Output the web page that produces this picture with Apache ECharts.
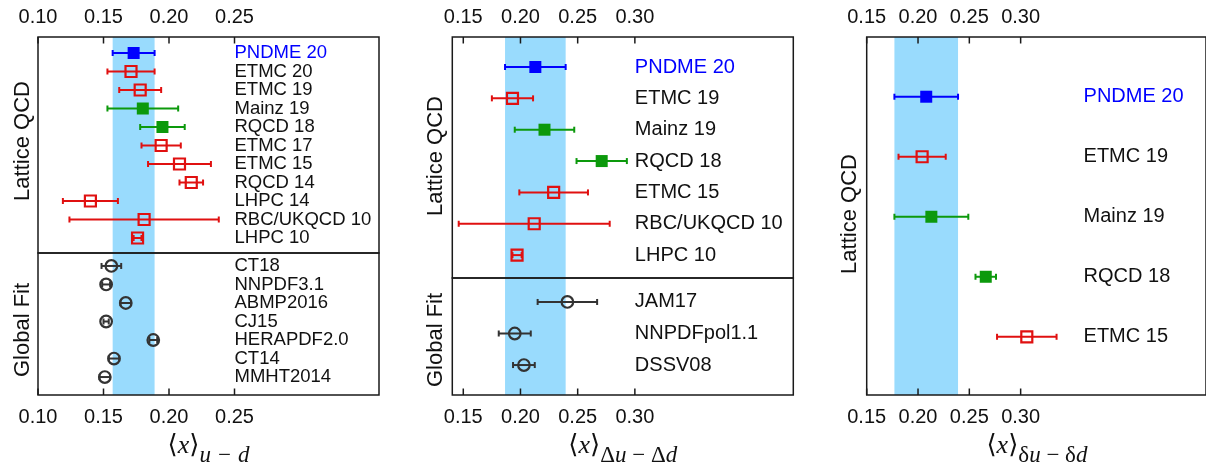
<!DOCTYPE html>
<html>
<head>
<meta charset="utf-8">
<script src="https://cdn.jsdelivr.net/npm/echarts@6/dist/echarts.min.js"></script>
<style>
html,body{margin:0;padding:0;background:#fff;}
#chart{width:1206px;height:473px;}
</style>
</head>
<body>
<div id="chart"></div>
<script>
// ---------- DATA ----------
// Panel 1: <x>_{u-d}
const p1LatticeNames = ['PNDME 20','ETMC 20','ETMC 19','Mainz 19','RQCD 18','ETMC 17','ETMC 15','RQCD 14','LHPC 14','RBC/UKQCD 10','LHPC 10'];
const p1LatticeVals  = [0.173, 0.171, 0.178, 0.180, 0.195, 0.194, 0.208, 0.217, 0.140, 0.181, 0.176];
const p1LatticeErrs  = [0.016, 0.018, 0.016, 0.027, 0.017, 0.015, 0.024, 0.009, 0.021, 0.057, 0.003];
const p1GlobalNames  = ['CT18','NNPDF3.1','ABMP2016','CJ15','HERAPDF2.0','CT14','MMHT2014'];
const p1GlobalVals   = [0.156, 0.152, 0.167, 0.152, 0.188, 0.158, 0.151];
const p1GlobalErrs   = [0.0075, 0.003, 0.004, 0.002, 0.003, 0.004, 0.004];
const p1Ticks        = [0.10, 0.15, 0.20, 0.25];

// Panel 2: <x>_{Δu-Δd}
const p2LatticeNames = ['PNDME 20','ETMC 19','Mainz 19','RQCD 18','ETMC 15','RBC/UKQCD 10','LHPC 10'];
const p2LatticeVals  = [0.213, 0.193, 0.221, 0.271, 0.229, 0.212, 0.197];
const p2LatticeErrs  = [0.0265, 0.018, 0.026, 0.022, 0.030, 0.066, 0.004];
const p2GlobalNames  = ['JAM17','NNPDFpol1.1','DSSV08'];
const p2GlobalVals   = [0.241, 0.195, 0.203];
const p2GlobalErrs   = [0.026, 0.014, 0.0095];
const p2Ticks        = [0.15, 0.20, 0.25, 0.30];

// Panel 3: <x>_{δu-δd}
const p3LatticeNames = ['PNDME 20','ETMC 19','Mainz 19','RQCD 18','ETMC 15'];
const p3LatticeVals  = [0.208, 0.204, 0.213, 0.266, 0.306];
const p3LatticeErrs  = [0.031, 0.023, 0.036, 0.010, 0.029];
const p3Ticks        = [0.15, 0.20, 0.25, 0.30];

// ---------- STYLE / LAYOUT ----------
const SANS = 'Liberation Sans, Arial, Helvetica, sans-serif';
const SERIF = 'Liberation Serif, DejaVu Serif, Times New Roman, serif';
const BLUE = '#0000ff', RED = '#e01010', GREEN = '#0c990c', GRAY = '#333333';
const BAND = '#99dbfd';
const FRAME = '#1a1a1a';

function kindOf(name, isGlobal) {
  if (isGlobal) return 'circle';
  if (name.indexOf('PNDME') === 0) return 'blue';
  if (name === 'Mainz 19' || name === 'RQCD 18') return 'green';
  return 'red';
}

const panels = [
  { left: 38, width: 341, xmin: 0.10, xmax: 0.3603, ticks: p1Ticks, labelX: 0.25, labelFont: 18.5,
    titleX: 22.5,
    sub: '{m|⟨}{i|x}{m|⟩}{s|u − d}',
    grids: [
      { top: 37, height: 216, ymin: -0.865, ymax: 10.81, names: p1LatticeNames, vals: p1LatticeVals, errs: p1LatticeErrs, global: false, axes: ['top'], title: 'Lattice QCD', titleY: 141 },
      { top: 253, height: 142, ymin: -0.70, ymax: 6.97, names: p1GlobalNames, vals: p1GlobalVals, errs: p1GlobalErrs, global: true, axes: ['bottom'], title: 'Global Fit', titleY: 330 }
    ] },
  { left: 452.3, width: 341, xmin: 0.1404, xmax: 0.4385, ticks: p2Ticks, labelX: 0.30, labelFont: 20,
    titleX: 435.5,
    sub: '{m|⟨}{i|x}{m|⟩}{g|Δ}{s|u}{g| − Δ}{s|d}',
    grids: [
      { top: 37, height: 241, ymin: -0.957, ymax: 6.73, names: p2LatticeNames, vals: p2LatticeVals, errs: p2LatticeErrs, global: false, axes: ['top'], title: 'Lattice QCD', titleY: 156 },
      { top: 278, height: 117, ymin: -0.76, ymax: 2.95, names: p2GlobalNames, vals: p2GlobalVals, errs: p2GlobalErrs, global: true, axes: ['bottom'], title: 'Global Fit', titleY: 340 }
    ] },
  { left: 866.7, width: 341.5, xmin: 0.15, xmax: 0.4806, ticks: p3Ticks, labelX: 0.3613, labelFont: 20,
    titleX: 850,
    sub: '{m|⟨}{i|x}{m|⟩}{g|δ}{s|u}{g| − δ}{s|d}',
    grids: [
      { top: 37, height: 358, ymin: -0.995, ymax: 4.97, names: p3LatticeNames, vals: p3LatticeVals, errs: p3LatticeErrs, global: false, axes: ['top', 'bottom'], title: 'Lattice QCD', titleY: 214 }
    ] }
];

const grid = [], xAxis = [], yAxis = [], series = [], graphic = [];

panels.forEach((p, pi) => {
  p.grids.forEach((g) => {
    const gi = grid.length;
    grid.push({ left: p.left, top: g.top, width: p.width, height: g.height, show: true,
      borderColor: FRAME, borderWidth: 1.5, backgroundColor: 'transparent' });
    yAxis.push({ gridIndex: gi, type: 'value', inverse: true, min: g.ymin, max: g.ymax, show: false });
    let dataX = null;
    g.axes.forEach((pos) => {
      const xi = xAxis.length;
      xAxis.push({
        gridIndex: gi, type: 'value', position: pos, min: p.xmin, max: p.xmax,
        axisLine: { show: false, onZero: false }, splitLine: { show: false },
        axisTick: { show: false },
        axisLabel: { show: true, customValues: p.ticks, formatter: (v) => v.toFixed(2), fontSize: 20,
          fontFamily: SANS, color: '#111', margin: pos === 'top' ? 10 : 12 }
      });
      if (dataX === null) dataX = xi;
    });
    const isTop = g.axes.indexOf('top') >= 0, isBottom = g.axes.indexOf('bottom') >= 0;
    // band (PNDME value ± error, first row of the panel) + inward tick marks at the tick values
    const bandLo = p.grids[0].vals[0] - p.grids[0].errs[0];
    const bandHi = p.grids[0].vals[0] + p.grids[0].errs[0];
    series.push({
      type: 'custom', xAxisIndex: dataX, yAxisIndex: gi, z: -1, silent: true,
      data: [[bandLo, bandHi]],
      renderItem: (params, api) => {
        const cs = params.coordSys;
        const x0 = api.coord([api.value(0), g.ymin])[0];
        const x1 = api.coord([api.value(1), g.ymin])[0];
        const kids = [{ type: 'rect', shape: { x: x0, y: cs.y, width: x1 - x0, height: cs.height }, style: { fill: BAND } }];
        p.ticks.forEach((t) => {
          const x = api.coord([t, g.ymin])[0];
          if (isTop) kids.push({ type: 'rect', shape: { x: x - 0.75, y: cs.y, width: 1.5, height: 6.5 }, style: { fill: FRAME } });
          if (isBottom) kids.push({ type: 'rect', shape: { x: x - 0.75, y: cs.y + cs.height - 6.5, width: 1.5, height: 6.5 }, style: { fill: FRAME } });
        });
        return { type: 'group', children: kids };
      }
    });
    // rows
    const names = g.names;
    series.push({
      type: 'custom', xAxisIndex: dataX, yAxisIndex: gi, silent: true,
      data: g.vals.map((v, i) => [v, i, g.errs[i]]),
      renderItem: (params, api) => {
        const v = api.value(0), r = api.value(1), e = api.value(2);
        const name = names[params.dataIndex];
        const kind = kindOf(name, g.global);
        const col = kind === 'blue' ? BLUE : kind === 'green' ? GREEN : kind === 'red' ? RED : GRAY;
        const pl = api.coord([v - e, r]);
        const pr = api.coord([v + e, r]);
        const pc = api.coord([v, r]);
        const xl = api.coord([p.labelX, r])[0];
        const y = pc[1];
        const lw = 2;
        const ch = 3;
        const children = [
          { type: 'line', shape: { x1: pl[0], y1: y, x2: pr[0], y2: y }, style: { stroke: col, lineWidth: lw } },
          { type: 'line', shape: { x1: pl[0], y1: y - ch, x2: pl[0], y2: y + ch }, style: { stroke: col, lineWidth: lw } },
          { type: 'line', shape: { x1: pr[0], y1: y - ch, x2: pr[0], y2: y + ch }, style: { stroke: col, lineWidth: lw } }
        ];
        if (kind === 'circle') {
          children.push({ type: 'circle', shape: { cx: pc[0], cy: y, r: 5.8 }, style: { stroke: col, lineWidth: 2.2, fill: 'none' } });
        } else if (kind === 'red') {
          children.push({ type: 'rect', shape: { x: pc[0] - 5.5, y: y - 5.5, width: 11, height: 11 }, style: { stroke: col, lineWidth: 2.2, fill: 'none' } });
        } else {
          children.push({ type: 'rect', shape: { x: pc[0] - 6, y: y - 6, width: 12, height: 12 }, style: { fill: col } });
        }
        children.push({ type: 'text', x: xl, y: y, style: { text: name, fill: kind === 'blue' ? BLUE : '#111',
          fontSize: p.labelFont, fontFamily: SANS, align: 'left', verticalAlign: 'middle' } });
        return { type: 'group', children };
      }
    });
    graphic.push({ type: 'text', x: p.titleX, y: g.titleY, rotation: Math.PI / 2,
      style: { text: g.title, fontSize: 22, fontFamily: SANS, fill: '#111', align: 'center', verticalAlign: 'middle' } });
  });
  // x axis title
  graphic.push({ type: 'text', x: p.left + p.width / 2 - (pi === 2 ? 0.5 : 0), y: 453,
    style: { text: p.sub, align: 'center', verticalAlign: 'middle',
      rich: {
        m: { fontFamily: SERIF, fontSize: 26, fill: '#111', padding: [0, 0, 8, 0], verticalAlign: 'bottom', lineHeight: 28 },
        i: { fontFamily: SERIF, fontSize: 26, fontStyle: 'italic', fill: '#111', padding: [0, 0, 8, 0], verticalAlign: 'bottom', lineHeight: 28 },
        s: { fontFamily: SERIF, fontSize: 23, fontStyle: 'italic', fill: '#111', verticalAlign: 'bottom', lineHeight: 24 },
        g: { fontFamily: SERIF, fontSize: 23, fill: '#111', verticalAlign: 'bottom', lineHeight: 24 }
      } } });
});

const chart = echarts.init(document.getElementById('chart'), null, { renderer: 'canvas' });
chart.setOption({ animation: false, backgroundColor: '#fff', grid, xAxis, yAxis, series, graphic });
</script>
</body>
</html>
